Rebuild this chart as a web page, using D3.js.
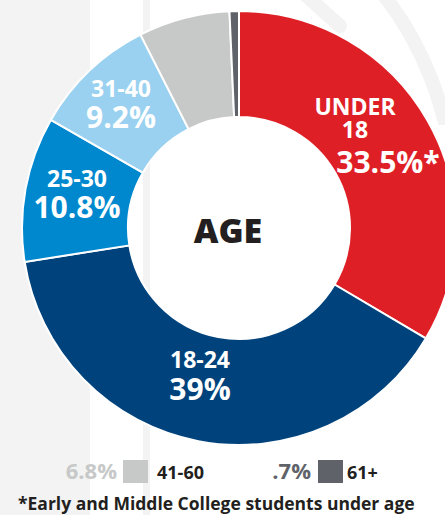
<!DOCTYPE html>
<html>
<head>
<meta charset="utf-8">
<script src="https://cdn.jsdelivr.net/npm/d3@7"></script>
<style>
  html, body { margin:0; padding:0; background:#fff; }
  svg { display:block; font-family:"Open Sans", sans-serif; }
</style>
</head>
<body>
<svg id="chart" width="445" height="515"></svg>
<script>
// data
const groups = ["UNDER 18", "18-24", "25-30", "31-40", "41-60", "61+"];
const shares = [33.5, 39, 10.8, 9.2, 6.8, 0.7];
const shareText = ["33.5%*", "39%", "10.8%", "9.2%", "6.8%", ".7%"];
const colors = ["#df1f26", "#00437c", "#0088cf", "#9ad1f0", "#c7c8c8", "#5f6369"];
const footnote = "*Early and Middle College students under age";

const W = 445, H = 515;
const cx = 239, cy = 228, rOut = 217, rIn = 111;
const svg = d3.select('#chart');

// background stripes / decoration
svg.append('defs').append('clipPath').attr('id', 'topclip')
  .append('rect').attr('x', 0).attr('y', 0).attr('width', W).attr('height', 125);
svg.append('rect').attr('x', 0).attr('y', 0).attr('width', 90).attr('height', H).attr('fill', '#f3f3f3');
svg.append('rect').attr('x', 143).attr('y', 0).attr('width', 7).attr('height', H).attr('fill', '#f3f3f3');
svg.append('circle').attr('cx', 120).attr('cy', 200).attr('r', 334)
  .attr('clip-path', 'url(#topclip)')
  .attr('fill', 'none').attr('stroke', '#f3f3f3').attr('stroke-width', 14);
svg.append('line').attr('x1', 300).attr('y1', -10).attr('x2', 340).attr('y2', 26)
  .attr('stroke', '#f3f3f3').attr('stroke-width', 14).attr('stroke-linecap', 'round');

const pie = d3.pie().sort(null).value(d => d.v);
const arcs = pie(groups.map((g, i) => ({ g, v: shares[i], i })));
const arc = d3.arc().innerRadius(rIn).outerRadius(rOut);

const g = svg.append('g').attr('transform', `translate(${cx},${cy})`);
g.selectAll('path').data(arcs).enter().append('path')
  .attr('d', arc)
  .attr('fill', d => colors[d.data.i])
  .attr('stroke', '#fff')
  .attr('stroke-width', 2);

// in-slice labels (center x, baselines)
const labels = [
  { lines: ["UNDER", "18"], x: 355, y: [115, 138], px: { x: 388, y: 173 } },
  { lines: ["18-24"], x: 200, y: [368], px: { x: 200, y: 400 } },
  { lines: ["25-30"], x: 77, y: [187], px: { x: 77, y: 218 } },
  { lines: ["31-40"], x: 121, y: [97], px: { x: 121, y: 128 } }
];
labels.forEach((l, i) => {
  l.lines.forEach((t, j) => {
    svg.append('text').attr('x', l.x).attr('y', l.y[j])
      .attr('text-anchor', 'middle').attr('fill', '#fff')
      .attr('font-size', 23).attr('font-weight', 700).text(t);
  });
  svg.append('text').attr('x', l.px.x).attr('y', l.px.y)
    .attr('text-anchor', 'middle').attr('fill', '#fff')
    .attr('font-size', 30).attr('font-weight', 700).text(shareText[i]);
});

svg.append('text').attr('x', 228).attr('y', 243)
  .attr('text-anchor', 'middle').attr('fill', '#231f20')
  .attr('font-size', 34).attr('font-weight', 800).text('AGE');

// legend for small slices
const legend = [
  { i: 4, tx: 117, sx: 123, lx: 157 },
  { i: 5, tx: 311, sx: 318, lx: 347 }
];
legend.forEach(l => {
  svg.append('text').attr('x', l.tx).attr('y', 479)
    .attr('text-anchor', 'end').attr('fill', colors[l.i])
    .attr('font-size', 22).attr('font-weight', 700).text(shareText[l.i]);
  svg.append('rect').attr('x', l.sx).attr('y', 460).attr('width', 25).attr('height', 23)
    .attr('fill', colors[l.i]);
  svg.append('text').attr('x', l.lx).attr('y', 479)
    .attr('fill', '#231f20').attr('font-size', 18).attr('font-weight', 700).text(groups[l.i]);
});

svg.append('text').attr('x', 18).attr('y', 510)
  .attr('fill', '#231f20').attr('font-size', 17.5).attr('font-weight', 700)
  .text(footnote);
</script>
</body>
</html>
